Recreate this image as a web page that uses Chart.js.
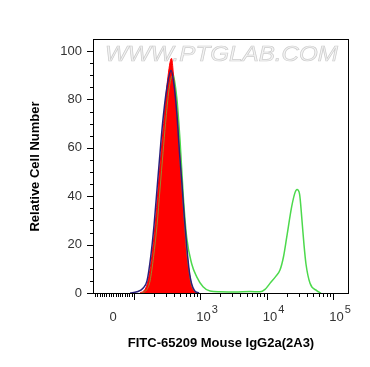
<!DOCTYPE html>
<html>
<head>
<meta charset="utf-8">
<script src="https://cdn.jsdelivr.net/npm/chart.js@4.4.1/dist/chart.umd.min.js"></script>
<style>
html, body { margin: 0; padding: 0; background: #fff; }
</style>
</head>
<body>
<canvas id="histChart" width="370" height="367"></canvas>
<script>
// x is in display units of the biexponential axis: 3 = 10^3, 4 = 10^4, 5 = 10^5
var xTickPos = [1.657, 3, 4, 5];
var xTickLabels = ['0', '10^3', '10^4', '10^5'];
var yTickPos = [0, 20, 40, 60, 80, 100];

// red filled control
var redX = [2.093, 2.168, 2.213, 2.269, 2.319, 2.364, 2.409, 2.447, 2.507, 2.567, 2.605, 2.65, 2.687, 2.72, 2.755, 2.795, 2.83, 2.86, 2.905, 2.965];
var redY = [0, 1.5, 5, 15, 28, 43, 58, 70, 88, 97, 87, 73, 58, 45, 31, 18, 9, 4, 1, 0];

// dark blue line
var blueX = [1.944, 2.048, 2.138, 2.198, 2.254, 2.304, 2.349, 2.394, 2.432, 2.492, 2.56, 2.605, 2.65, 2.687, 2.724, 2.76, 2.8, 2.834, 2.868, 2.913, 2.98];
var blueY = [0, 0.5, 2, 5, 15, 28, 43, 58, 70, 84, 92, 86, 73, 58, 45, 31, 18, 9, 4, 1, 0];

// olive line
var oliveX = [2.123, 2.198, 2.244, 2.297, 2.349, 2.394, 2.439, 2.477, 2.529, 2.582, 2.62, 2.657, 2.687, 2.72, 2.755, 2.792, 2.83, 2.86, 2.905, 2.965];
var oliveY = [0, 1.5, 5, 15, 28, 43, 58, 70, 84, 90, 84, 72, 58, 45, 31, 18, 9, 4, 1, 0];

// green line (stained sample)
var greenX = [2.138, 2.244, 2.319, 2.394, 2.469, 2.529, 2.574, 2.645, 2.695, 2.744, 2.795, 2.871, 2.946, 3.041, 3.146, 3.296, 3.522, 3.747, 3.897, 3.973, 4.047, 4.138, 4.198, 4.251, 4.299, 4.374, 4.424, 4.454, 4.492, 4.529, 4.559, 4.589, 4.65, 4.75, 4.815];
var greenY = [0, 4, 15, 35, 60, 82, 91.5, 81, 63, 40, 23, 12, 6.7, 2.6, 0.8, 0.5, 0.4, 0.6, 0.5, 1.5, 4, 7, 9.5, 15, 23, 35.7, 41.5, 42.8, 41, 30, 20, 12, 4, 1, 0];

var FONT = '"Liberation Sans", Arial, sans-serif';

function pts(xs, ys) {
    return xs.map(function (x, i) { return { x: x, y: ys[i] }; });
}

var frame = {
    id: 'frame',
    beforeDatasetsDraw: function (chart) {
        var ctx = chart.ctx;
        var txt = 'WWW.PTGLAB.COM';
        ctx.save();
        ctx.font = 'italic 22px ' + FONT;
        var w = ctx.measureText(txt).width;
        ctx.translate(105, 61);
        ctx.scale(233 / w, 1);
        ctx.fillStyle = '#f4f4f4';
        ctx.strokeStyle = '#cdcdcd';
        ctx.lineWidth = 0.7;
        ctx.fillText(txt, 0, 0);
        ctx.strokeText(txt, 0, 0);
        ctx.restore();
    },
    afterDraw: function (chart) {
        var ctx = chart.ctx, a = chart.chartArea;
        var xs = chart.scales.x, ys = chart.scales.y;
        ctx.save();
        ctx.strokeStyle = '#000';
        ctx.lineWidth = 1;
        ctx.strokeRect(a.left + 0.5, a.top + 0.5, a.right - a.left - 1, a.bottom - a.top - 1);

        ctx.beginPath();
        // y ticks, every 5 with majors every 20
        for (var v = 0; v <= 100; v += 5) {
            var py = Math.round(ys.getPixelForValue(v)) + 0.5;
            var len = (v % 20 === 0) ? 6 : 3;
            ctx.moveTo(a.left - len, py);
            ctx.lineTo(a.left, py);
        }
        // x ticks
        var majors = [3, 4, 5, 2];
        var minors = [];
        for (var d = 2; d <= 4; d++) {
            for (var m = 2; m <= 9; m++) minors.push(d + Math.log10(m));
        }
        for (var k = 1; k <= 9; k++) minors.push(1.657 + (2 - 1.657) * k / 10);
        for (k = 1; k <= 8; k++) minors.push(1.657 - 0.0343 * k);
        minors.push(1.657);
        var bot = a.bottom;
        majors.forEach(function (t) {
            var px = Math.round(xs.getPixelForValue(t)) + 0.5;
            ctx.moveTo(px, bot); ctx.lineTo(px, bot + 6);
        });
        minors.forEach(function (t) {
            if (t < xs.min || t > xs.max) return;
            var px = Math.round(xs.getPixelForValue(t)) + 0.5;
            ctx.moveTo(px, bot); ctx.lineTo(px, bot + 3);
        });
        ctx.stroke();

        // x tick labels with raised exponents
        ctx.fillStyle = '#333';
        ctx.textBaseline = 'alphabetic';
        xTickPos.forEach(function (t, i) {
            var px = xs.getPixelForValue(t);
            var parts = xTickLabels[i].split('^');
            ctx.font = '13px ' + FONT;
            if (parts.length === 1) {
                ctx.textAlign = 'center';
                ctx.fillText(parts[0], px + 2, 321);
                return;
            }
            ctx.textAlign = 'left';
            var bx = px - 4;
            ctx.fillText(parts[0], bx, 321);
            var bw = ctx.measureText(parts[0]).width;
            ctx.font = '11px ' + FONT;
            ctx.fillText(parts[1], bx + bw + 1, 313);
        });
        ctx.restore();
    }
};

window.onload = function () {
    var ctx = document.getElementById('histChart');
    var histChart = new Chart(ctx, {
        type: 'line',
        data: {
            datasets: [
                {
                    data: pts(blueX, blueY),
                    borderColor: '#2a1f7c',
                    borderWidth: 1.5,
                    fill: false
                },
                {
                    data: pts(oliveX, oliveY),
                    borderColor: '#9a8a2e',
                    borderWidth: 1,
                    fill: false
                },
                {
                    data: pts(redX, redY),
                    borderColor: '#ff0000',
                    backgroundColor: '#ff0000',
                    borderWidth: 1,
                    fill: 'origin'
                },
                {
                    data: pts(greenX, greenY),
                    borderColor: '#4cd94c',
                    borderWidth: 1.5,
                    fill: false
                }
            ]
        },
        options: {
            responsive: false,
            animation: false,
            elements: {
                point: { radius: 0 },
                line: { cubicInterpolationMode: 'monotone' }
            },
            layout: { padding: { top: 39, right: 21, left: 0, bottom: 0 } },
            plugins: {
                legend: { display: false },
                tooltip: { enabled: false }
            },
            scales: {
                x: {
                    type: 'linear',
                    min: 1.386,
                    max: 5.236,
                    afterFit: function (s) { s.height = 73; },
                    afterBuildTicks: function (s) {
                        s.ticks = xTickPos.map(function (v) { return { value: v }; });
                    },
                    grid: { display: false, drawTicks: true, tickLength: 6 },
                    border: { display: false },
                    ticks: {
                        autoSkip: false,
                        maxRotation: 0,
                        padding: 9,
                        font: { family: FONT, size: 13 },
                        // labels are drawn by the frame plugin to get raised exponents
                        callback: function () { return ''; }
                    },
                    title: {
                        display: true,
                        text: 'FITC-65209 Mouse IgG2a(2A3)',
                        color: '#000',
                        padding: { top: 0, bottom: 16 },
                        font: { family: FONT, size: 13, weight: 'bold' }
                    }
                },
                y: {
                    min: -0.4,
                    max: 105,
                    afterFit: function (s) { s.width = 93; },
                    afterBuildTicks: function (s) {
                        s.ticks = yTickPos.map(function (v) { return { value: v }; });
                    },
                    grid: { display: false, drawTicks: true, tickLength: 6 },
                    border: { display: false },
                    ticks: {
                        padding: 5,
                        color: '#333',
                        font: { family: FONT, size: 13 }
                    },
                    title: {
                        display: true,
                        text: 'Relative Cell Number',
                        color: '#000',
                        padding: { top: 28, bottom: 0 },
                        font: { family: FONT, size: 13, weight: 'bold' }
                    }
                }
            }
        },
        plugins: [frame]
    });
};
</script>
</body>
</html>
